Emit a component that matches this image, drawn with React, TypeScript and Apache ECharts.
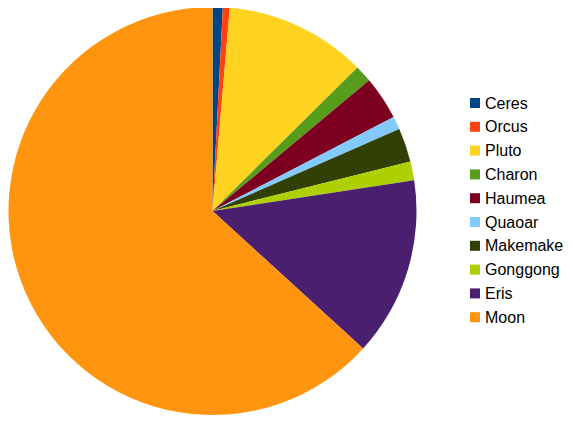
import React, { useEffect, useRef } from "react";
import * as echarts from "echarts";

const names = ["Ceres", "Orcus", "Pluto", "Charon", "Haumea", "Quaoar", "Makemake", "Gonggong", "Eris", "Moon"];
const values = [9.38, 6.3, 130.3, 15.86, 40.06, 12, 31, 17.5, 164.66, 734.2];
const colors = ["#004586", "#ff420e", "#ffd320", "#579d1c", "#7e0021", "#83caff", "#314004", "#aecf00", "#4b1f6f", "#ff950e"];

export default function App() {
  const ref = useRef<HTMLDivElement>(null);
  useEffect(() => {
    const chart = echarts.init(ref.current!, null, { renderer: "svg" });
    chart.setOption({
      animation: false,
      color: colors,
      legend: {
        orient: "vertical",
        left: 462,
        top: 87,
        padding: 0,
        itemWidth: 10,
        itemHeight: 10,
        itemGap: 7.8,
        icon: "rect",
        textStyle: { fontFamily: "Liberation Sans", fontSize: 16, color: "#000", lineHeight: 16 },
        data: names,
      },
      series: [
        {
          type: "pie",
          center: [204.5, 203],
          radius: 204,
          startAngle: 90,
          clockwise: true,
          label: { show: false },
          labelLine: { show: false },
          itemStyle: { borderWidth: 0 },
          emphasis: { disabled: true },
          data: names.map((n, i) => ({ name: n, value: values[i] })),
        },
      ],
    });
    return () => chart.dispose();
  }, []);
  return <div ref={ref} style={{ width: 565, height: 414 }} />;
}
